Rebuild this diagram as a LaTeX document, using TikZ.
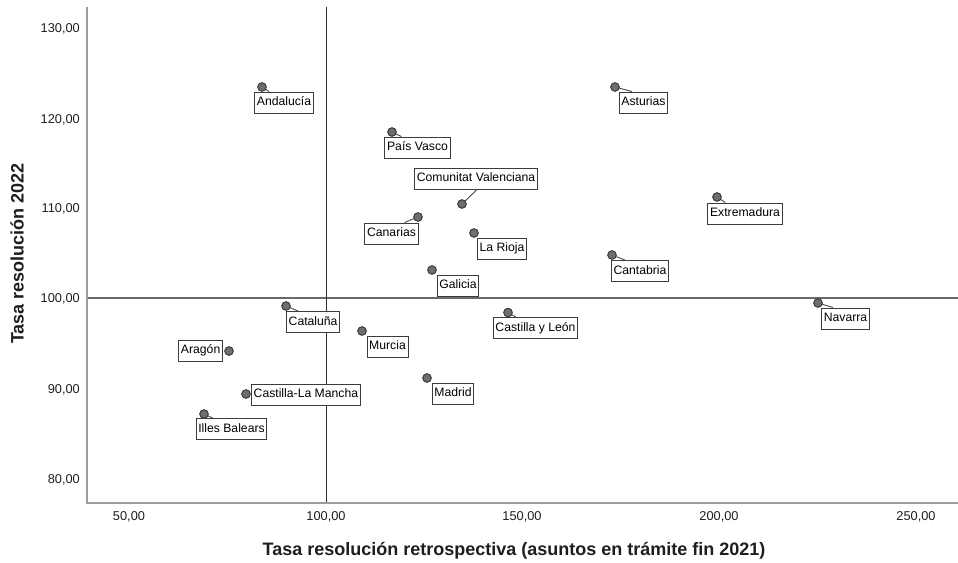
\documentclass[tikz,border=0pt]{standalone}
\usepackage{fontspec}
\setmainfont{Liberation Sans}
\definecolor{axiscol}{HTML}{9C9C9C}
\definecolor{hrefcol}{HTML}{6A6A6A}
\definecolor{vrefcol}{HTML}{2E2E2E}
\definecolor{dotfill}{HTML}{6E6E6E}
\definecolor{dotdraw}{HTML}{3A3A3A}
\definecolor{boxdraw}{HTML}{3C3C3C}
\definecolor{leadcol}{HTML}{4A4A4A}
\definecolor{txtcol}{HTML}{1E1E1E}
\begin{document}
\begin{tikzpicture}[x=1pt,y=-1pt,
  axisline/.style={draw=axiscol,line width=1.4pt},
  hrefline/.style={draw=hrefcol,line width=1.4pt},
  vrefline/.style={draw=vrefcol,line width=0.9pt},
  dotmark/.style={circle,fill=dotfill,draw=dotdraw,line width=0.8pt,minimum size=8.5pt,inner sep=0pt},
  labelbox/.style={draw=boxdraw,fill=white,line width=1pt,font=\fontsize{12.2}{14}\selectfont,text=black,
    inner xsep=2.2pt,inner ysep=0pt,minimum height=21pt,text height=9pt,text depth=2.6pt},
  leaderline/.style={draw=leadcol,line width=0.9pt},
  ticklab/.style={font=\fontsize{12.8}{14}\selectfont,text=txtcol,inner sep=0pt},
  axtitle/.style={font=\fontsize{18}{21}\selectfont\bfseries,text=txtcol,inner sep=0pt}]
\useasboundingbox (0,0) rectangle (958,562);
\fill[white] (0,0) rectangle (958,562);
% axes and reference lines
\coordinate (ytop) at (87,7);
\coordinate (orig) at (87,503);
\coordinate (xend) at (958,503);
\coordinate (vtop) at (326,7);
\coordinate (vbot) at (326,503);
\coordinate (hl) at (87,298);
\coordinate (hr) at (958,298);
\draw[hrefline] (hl) -- (hr);
\draw[vrefline] (vtop) -- (vbot);
\draw[axisline] (ytop) -- (orig) -- (xend);
% y tick labels
\node[ticklab,anchor=east] (y130) at (80,29) {130,00};
\node[ticklab,anchor=east] (y120) at (80,119.5) {120,00};
\node[ticklab,anchor=east] (y110) at (80,209) {110,00};
\node[ticklab,anchor=east] (y100) at (80,299) {100,00};
\node[ticklab,anchor=east] (y90) at (80,389.5) {90,00};
\node[ticklab,anchor=east] (y80) at (80,480) {80,00};
% x tick labels
\node[ticklab] (x50) at (129,517) {50,00};
\node[ticklab] (x100) at (326,517) {100,00};
\node[ticklab] (x150) at (522,517) {150,00};
\node[ticklab] (x200) at (719,517) {200,00};
\node[ticklab] (x250) at (916,517) {250,00};
% axis titles
\node[axtitle] (xtitle) at (514,551) {Tasa resolución retrospectiva (asuntos en trámite fin 2021)};
\node[axtitle,rotate=90] (ytitle) at (17,253.5) {Tasa resolución 2022};
% data points
\node[dotmark] (pAnd) at (262,87) {};
\node[dotmark] (pAst) at (615,87) {};
\node[dotmark] (pPV) at (392,132) {};
\node[dotmark] (pCV) at (462,204) {};
\node[dotmark] (pCan) at (418,217) {};
\node[dotmark] (pRio) at (474,233) {};
\node[dotmark] (pGal) at (432,270) {};
\node[dotmark] (pCtb) at (612,255) {};
\node[dotmark] (pExt) at (717,197) {};
\node[dotmark] (pNav) at (818,303) {};
\node[dotmark] (pCyL) at (508,312.5) {};
\node[dotmark] (pMur) at (362,331) {};
\node[dotmark] (pMad) at (427,378) {};
\node[dotmark] (pCat) at (286,306) {};
\node[dotmark] (pAra) at (229,351) {};
\node[dotmark] (pCLM) at (246,394) {};
\node[dotmark] (pIB) at (204,414) {};
% label boxes
\node[labelbox] (bAnd) at (284,102.5) {Andalucía};
\node[labelbox] (bAst) at (643.5,102.5) {Asturias};
\node[labelbox] (bPV) at (417.5,147.5) {País Vasco};
\node[labelbox] (bCV) at (476,178.5) {Comunitat Valenciana};
\node[labelbox] (bCan) at (391.5,233.5) {Canarias};
\node[labelbox] (bRio) at (502,248.5) {La Rioja};
\node[labelbox] (bGal) at (458,285.5) {Galicia};
\node[labelbox] (bCtb) at (640,271) {Cantabria};
\node[labelbox] (bExt) at (745,213.5) {Extremadura};
\node[labelbox] (bNav) at (845.5,318.5) {Navarra};
\node[labelbox] (bCyL) at (535.5,328) {Castilla y León};
\node[labelbox] (bMur) at (387.5,346.5) {Murcia};
\node[labelbox] (bMad) at (453,393.5) {Madrid};
\node[labelbox,anchor=west] (bCat) at (286,322) {Cataluña};
\node[labelbox,anchor=east] (bAra) at (223,350.5) {Aragón};
\node[labelbox,anchor=west] (bCLM) at (251,394.5) {Castilla-La Mancha};
\node[labelbox] (bIB) at (231.5,429) {Illes Balears};
% leaders
\draw[leaderline] (pAnd.center) -- ([xshift=15pt]bAnd.north west);
\draw[leaderline] (pAst.center) -- ([xshift=13pt]bAst.north west);
\draw[leaderline] (pPV.center) -- ([xshift=17pt]bPV.north west);
\draw[leaderline] (pCV.center) -- ([xshift=63pt]bCV.south west);
\draw[leaderline] (pCan.center) -- ([xshift=-14pt]bCan.north east);
\draw[leaderline] (pCtb.center) -- ([xshift=14pt]bCtb.north west);
\draw[leaderline] (pExt.center) -- ([xshift=18pt]bExt.north west);
\draw[leaderline] (pNav.center) -- ([xshift=12pt]bNav.north west);
\draw[leaderline] (pCyL.center) -- ([xshift=23pt]bCyL.north west);
\draw[leaderline] (pCat.center) -- ([xshift=12pt]bCat.north west);
\draw[leaderline] (pIB.center) -- ([xshift=17pt]bIB.north west);
% redraw dots on top of leaders
\foreach \p in {pAnd,pAst,pPV,pCV,pCan,pRio,pGal,pCtb,pExt,pNav,pCyL,pMur,pMad,pCat,pAra,pCLM,pIB}
  \fill[dotfill,draw=dotdraw,line width=0.8pt] (\p.center) circle (4.25pt);
\end{tikzpicture}
\end{document}
